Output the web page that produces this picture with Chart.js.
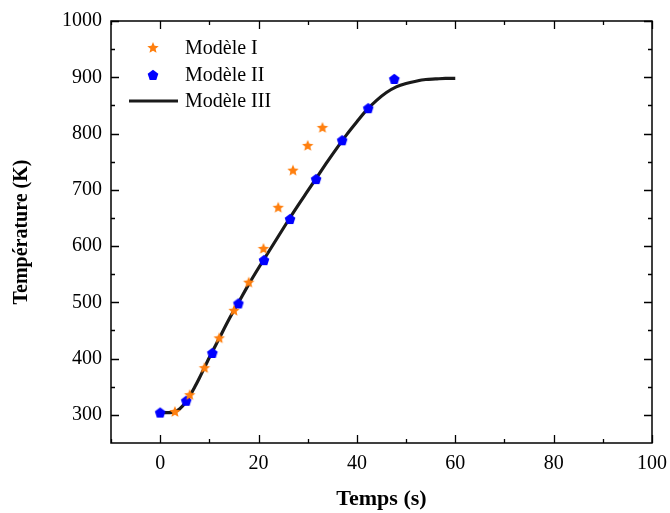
<!DOCTYPE html>
<html>
<head>
<meta charset="utf-8">
<script src="https://cdn.jsdelivr.net/npm/chart.js@4/dist/chart.umd.min.js"></script>
<style>
  html, body { margin: 0; padding: 0; background: #fff; }
  #wrap { width: 670px; height: 513px; }
</style>
</head>
<body>
<div id="wrap"><canvas id="c" width="670" height="513"></canvas></div>
<script>
// Temperature rise over time for three models
const seriesNames = ['Modèle I', 'Modèle II', 'Modèle III'];

const model1Time = [3, 6, 9, 12, 15, 18, 21, 24, 27, 30, 33];
const model1Temp = [305, 335, 383, 436, 485, 535, 595, 668, 734, 778, 810];

const model2Time = [0, 5.3, 10.6, 15.9, 21.1, 26.4, 31.7, 37.0, 42.3, 47.6];
const model2Temp = [304, 325, 410, 498, 575, 648, 719, 788, 845, 897];

const model3Time = [0, 2, 3, 4, 5, 6, 7, 8, 10, 12, 14, 16, 18, 20, 22, 24, 26, 28, 30, 32, 34, 36, 38, 40, 42, 44, 46, 48, 50, 52, 54, 56, 58, 60];
const model3Temp = [304, 304, 306, 311, 320, 333, 349, 366, 402, 436, 470, 501, 532, 561, 589, 617, 645, 672, 698, 724, 750, 775, 799, 821, 842, 859, 873, 883, 889, 893, 896, 897, 898, 898];

const xTickValues = [0, 20, 40, 60, 80, 100];
const yTickValues = [300, 400, 500, 600, 700, 800, 900, 1000];
const xMinorValues = [-10, 10, 30, 50, 70, 90];
const yMinorValues = [350, 450, 550, 650, 750, 850, 950];

const ORANGE = '#ff7f0e';
const BLUE = '#0000ff';
const LINE = '#1a1a1a';
const SERIF = '"Liberation Serif", "Times New Roman", serif';

function toXY(xs, ys) { return xs.map((x, i) => ({ x: x, y: ys[i] })); }

// Filled marker glyphs used as point styles
function starCanvas(r, color) {
  const s = Math.ceil(r * 2 + 2);
  const c = document.createElement('canvas');
  c.width = s; c.height = s;
  const g = c.getContext('2d');
  const cx = s / 2, cy = s / 2, ri = r * 0.45;
  g.beginPath();
  for (let i = 0; i < 10; i++) {
    const rad = i % 2 === 0 ? r : ri;
    const a = -Math.PI / 2 + i * Math.PI / 5;
    const px = cx + rad * Math.cos(a), py = cy + rad * Math.sin(a);
    if (i === 0) g.moveTo(px, py); else g.lineTo(px, py);
  }
  g.closePath();
  g.fillStyle = color;
  g.fill();
  return c;
}
function pentagonCanvas(r, color) {
  const s = Math.ceil(r * 2 + 2);
  const c = document.createElement('canvas');
  c.width = s; c.height = s;
  const g = c.getContext('2d');
  const cx = s / 2, cy = s / 2 + 0.4;
  g.beginPath();
  for (let i = 0; i < 5; i++) {
    const a = -Math.PI / 2 + i * 2 * Math.PI / 5;
    const px = cx + r * Math.cos(a), py = cy + r * Math.sin(a);
    if (i === 0) g.moveTo(px, py); else g.lineTo(px, py);
  }
  g.closePath();
  g.fillStyle = color;
  g.fill();
  return c;
}
const starImg = starCanvas(6, ORANGE);
const pentImg = pentagonCanvas(5.6, BLUE);

// Frame, inward ticks on all four sides, and the in-plot legend
const framePlugin = {
  id: 'frame',
  afterDatasetsDraw(chart) {
    const { ctx, chartArea: a, scales } = chart;
    const xs = scales.x, ys = scales.y;
    ctx.save();
    ctx.strokeStyle = '#000';
    ctx.lineWidth = 1.5;
    ctx.strokeRect(a.left, a.top, a.right - a.left, a.bottom - a.top);
    ctx.lineWidth = 1.3;
    ctx.beginPath();
    const tickX = (vals, len) => vals.forEach(v => {
      const p = Math.round(xs.getPixelForValue(v)) + 0.5;
      ctx.moveTo(p, a.bottom); ctx.lineTo(p, a.bottom - len);
      ctx.moveTo(p, a.top); ctx.lineTo(p, a.top + len);
    });
    const tickY = (vals, len) => vals.forEach(v => {
      const p = Math.round(ys.getPixelForValue(v)) + 0.5;
      ctx.moveTo(a.left, p); ctx.lineTo(a.left + len, p);
      ctx.moveTo(a.right, p); ctx.lineTo(a.right - len, p);
    });
    tickX(xTickValues, 8); tickX(xMinorValues, 4);
    tickY(yTickValues, 8); tickY(yMinorValues, 4);
    ctx.stroke();

    // legend
    const lx = a.left + 42, tx = a.left + 74;
    const rows = [a.top + 27, a.top + 54, a.top + 80];
    ctx.drawImage(starImg, lx - starImg.width / 2, rows[0] - starImg.height / 2);
    ctx.drawImage(pentImg, lx - pentImg.width / 2, rows[1] - pentImg.height / 2);
    ctx.strokeStyle = LINE;
    ctx.lineWidth = 3;
    ctx.beginPath();
    ctx.moveTo(lx - 24, rows[2]); ctx.lineTo(lx + 25, rows[2]);
    ctx.stroke();
    ctx.fillStyle = '#000';
    ctx.font = '20px ' + SERIF;
    ctx.textBaseline = 'middle';
    ctx.textAlign = 'left';
    seriesNames.forEach((n, i) => ctx.fillText(n, tx, rows[i] + 1));
    ctx.restore();
  }
};

new Chart(document.getElementById('c'), {
  type: 'scatter',
  data: {
    datasets: [
      {
        label: seriesNames[0],
        data: toXY(model1Time, model1Temp),
        pointStyle: starImg,
        order: 0
      },
      {
        label: seriesNames[1],
        data: toXY(model2Time, model2Temp),
        pointStyle: pentImg,
        order: 1
      },
      {
        label: seriesNames[2],
        type: 'line',
        data: toXY(model3Time, model3Temp),
        borderColor: LINE,
        borderWidth: 3.2,
        pointRadius: 0,
        cubicInterpolationMode: 'monotone',
        fill: false,
        order: 2
      }
    ]
  },
  options: {
    responsive: false,
    animation: false,
    layout: { padding: { top: 21, right: 18, left: 0, bottom: 0 } },
    plugins: { legend: { display: false }, tooltip: { enabled: false } },
    scales: {
      x: {
        type: 'linear',
        min: -10,
        max: 100,
        grid: { display: false, drawTicks: false },
        border: { display: false },
        afterBuildTicks(s) { s.ticks = xTickValues.map(v => ({ value: v })); },
        afterFit(s) { s.height = 70; s.paddingLeft = 0; s.paddingRight = 0; },
        ticks: { color: '#000', padding: 9, font: { family: SERIF, size: 20 }, callback: v => String(v) },
        title: {
          display: true,
          text: 'Temps (s)',
          color: '#000',
          padding: { top: 13, bottom: 0 },
          font: { family: SERIF, size: 22, weight: 'bold' }
        }
      },
      y: {
        type: 'linear',
        min: 250,
        max: 1000,
        grid: { display: false, drawTicks: false },
        border: { display: false },
        afterBuildTicks(s) { s.ticks = yTickValues.map(v => ({ value: v })); },
        afterFit(s) { s.width = 111; s.paddingTop = 0; s.paddingBottom = 0; },
        ticks: { color: '#000', padding: 9, font: { family: SERIF, size: 20 }, callback: v => String(v) },
        title: {
          display: true,
          text: 'Température (K)',
          color: '#000',
          padding: { top: 10, bottom: 0 },
          font: { family: SERIF, size: 20, weight: 'bold' }
        }
      }
    }
  },
  plugins: [framePlugin]
});
</script>
</body>
</html>
